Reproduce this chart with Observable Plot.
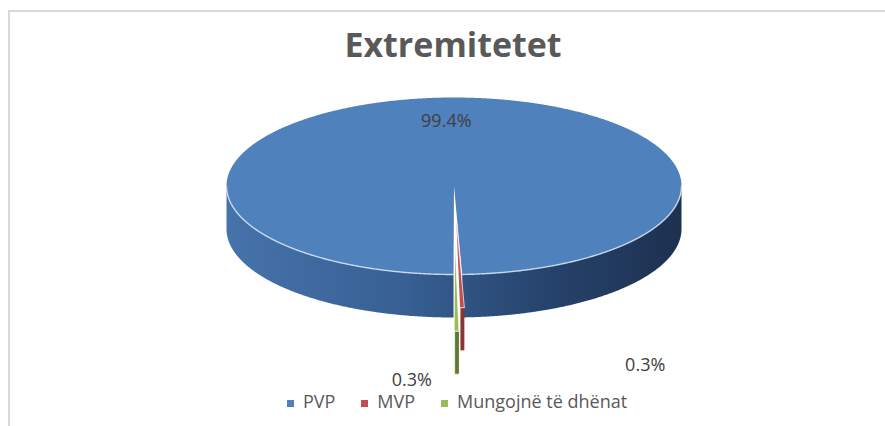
<!DOCTYPE html>
<html><head><meta charset="utf-8">
<script src="https://cdn.jsdelivr.net/npm/d3@7"></script>
<script src="https://cdn.jsdelivr.net/npm/@observablehq/plot@0.6"></script>
<style>
html,body{margin:0;padding:0;background:#fff}
body{width:885px;height:426px;overflow:hidden;position:relative;font-family:"Open Sans",sans-serif}
#frame{position:absolute;left:8px;top:10px;width:920px;height:460px;border:2px solid #d9d9d9;box-sizing:border-box}
#chart{position:absolute;left:0;top:0}
#title{position:absolute;left:0;width:906px;top:27px;text-align:center;font-weight:700;font-size:34px;line-height:34px;color:#595959;white-space:nowrap}
#legend{position:absolute;left:0;width:914px;top:392px;display:flex;justify-content:center;gap:26px;font-size:18px;line-height:18px;color:#595959;white-space:nowrap}
#legend .item{display:flex;align-items:center}
#legend .sw{width:7px;height:7px;margin-right:9px;margin-top:5px}
</style></head><body>
<div id="frame"></div>
<div id="chart"></div>
<div id="title">Extremitetet</div>
<div id="legend"></div>
<script>
// ---- data ----
const categories = ["PVP", "MVP", "Mungojnë të dhënat"];
const values = [99.4, 0.3, 0.3];
const labels = ["99.4%", "0.3%", "0.3%"];

// ---- styles ----
const topColors = ["#4f81bd", "#c0504d", "#9bbb59"];
const sideColors = ["url(#gBlue)", "#8a3533", "#5e7a30"];
const explode = [0, 0.375, 0.64];
const labelOffsets = [[-5, -3], [183, 58], [-45, 49]];

// ---- geometry ----
const W = 885, H = 426;
const cx = 453.5, cy = 185.5, rx = 227.5, ry = 88.5, depth = 43;
const start = Math.PI + 0.002;
const arcs = d3.pie().sort(null).startAngle(start).endAngle(start + 2 * Math.PI)(values);

function pt(a, r, ox, oy, dz = 0) {
  return [cx + ox + r * rx * Math.sin(a), cy + oy - r * ry * Math.cos(a) + dz];
}
function sample(a0, a1) {
  const n = Math.max(2, Math.ceil(Math.abs(a1 - a0) / 0.005));
  return d3.range(n + 1).map(k => a0 + (a1 - a0) * k / n);
}

const polys = [];   // painter's order
const rims = [];
const texts = [];
let pid = 0;
function addPoly(points, fill, stroke) {
  const id = pid++;
  points.forEach(([x, y]) => polys.push({id, x, y, fill, stroke}));
}

arcs.forEach((d, i) => {
  const mid = (d.startAngle + d.endAngle) / 2;
  const ox = explode[i] * rx * Math.sin(mid);
  const oy = -explode[i] * ry * Math.cos(mid);
  // side walls (front-facing portions)
  for (let k = 0; k < 3; k++) {
    const lo = Math.max(d.startAngle, Math.PI / 2 + 2 * Math.PI * k);
    const hi = Math.min(d.endAngle, 3 * Math.PI / 2 + 2 * Math.PI * k);
    if (lo < hi) {
      const as = sample(lo, hi);
      const pts = as.map(a => pt(a, 1, ox, oy)).concat(as.slice().reverse().map(a => pt(a, 1, ox, oy, depth)));
      addPoly(pts, sideColors[i], i === 0 ? "none" : "#ffffff");
      if (i === 0) as.forEach(a => { const [x, y] = pt(a, 1, ox, oy); rims.push({id: k, x, y}); });
    }
  }
  // top face
  const as = sample(d.startAngle, d.endAngle);
  const top = [[cx + ox, cy + oy]].concat(as.map(a => pt(a, 1, ox, oy)));
  addPoly(top, topColors[i], i === 0 ? "none" : "#ffffff");
  // label
  let ax, ay;
  if (i === 0) [ax, ay] = pt(mid, 0.7, ox, oy);
  else [ax, ay] = pt(mid, 1, ox, oy);
  texts.push({x: ax + labelOffsets[i][0], y: ay + labelOffsets[i][1], text: labels[i]});
});

const chart = Plot.plot({
  width: W, height: H,
  margin: 0,
  x: {type: "identity", axis: null},
  y: {type: "identity", axis: null},
  color: {type: "identity"},
  marks: [
    Plot.line(polys, {x: "x", y: "y", z: "id", fill: "fill", stroke: "stroke", strokeWidth: 0.7, curve: "linear"}),
    Plot.line(rims, {x: "x", y: "y", z: "id", stroke: "#d4e1f1", strokeWidth: 1.4, strokeOpacity: 0.9}),
    Plot.text(texts, {x: "x", y: "y", text: "text", fill: "#404040", fontSize: 18, fontFamily: "Open Sans", textAnchor: "middle"})
  ]
});
d3.select(chart).insert("defs", ":first-child").html(
  `<linearGradient id="gBlue" gradientUnits="userSpaceOnUse" x1="${cx - rx}" y1="0" x2="${cx + rx}" y2="0">
     <stop offset="0" stop-color="#4673ab"/>
     <stop offset="0.4" stop-color="#375f93"/>
     <stop offset="0.7" stop-color="#26436c"/>
     <stop offset="1" stop-color="#1d3150"/>
   </linearGradient>`);
d3.select(chart).style("background", "transparent");
document.getElementById("chart").appendChild(chart);

// legend
const lg = d3.select("#legend");
categories.forEach((c, i) => {
  const it = lg.append("div").attr("class", "item");
  it.append("div").attr("class", "sw").style("background", topColors[i]);
  it.append("span").text(c);
});
</script>
</body></html>
